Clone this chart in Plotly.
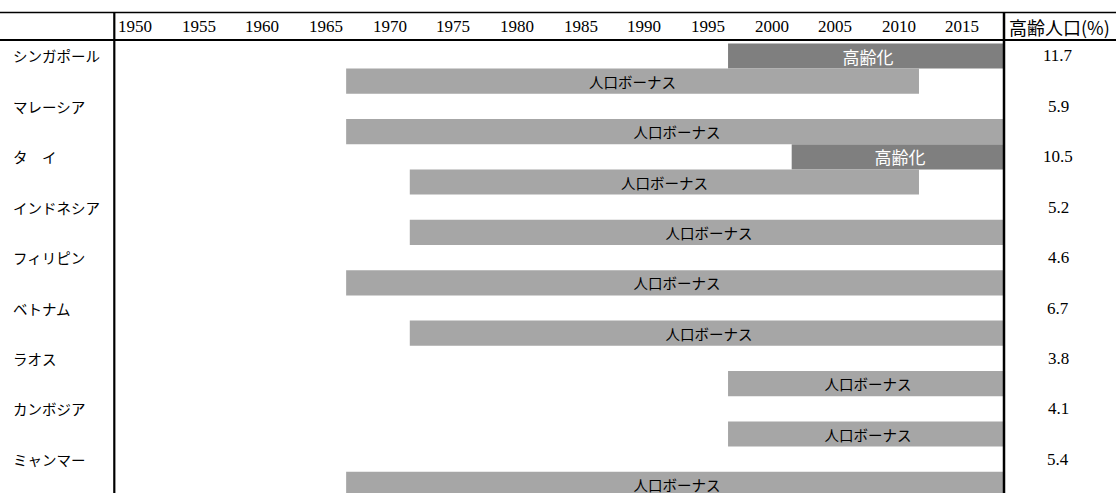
import plotly.graph_objects as go

# --- data -------------------------------------------------------------
countries = ["シンガポール", "マレーシア", "タ　イ", "インドネシア", "フィリピン",
             "ベトナム", "ラオス", "カンボジア", "ミャンマー"]
bonus_start = [1968, 1968, 1973, 1973, 1968, 1973, 1998, 1998, 1968]
bonus_end = [2013, 2020, 2013, 2020, 2020, 2020, 2020, 2020, 2020]
aging_start = [1998, None, 2003, None, None, None, None, None, None]
aging_end = [2020, None, 2020, None, None, None, None, None, None]
elderly_pct = [11.7, 5.9, 10.5, 5.2, 4.6, 6.7, 3.8, 4.1, 5.4]
year_ticks = [1950, 1955, 1960, 1965, 1970, 1975, 1980, 1985, 1990, 1995,
              2000, 2005, 2010, 2015]
bonus_label = "人口ボーナス"
aging_label = "高齢化"
value_header = "高齢人口(%)"

# --- layout constants -------------------------------------------------
W, H = 1116, 493
JP = "Noto Sans CJK JP"
SERIF = "Liberation Serif"
C_AGING = "#7f7f7f"
C_BONUS = "#a6a6a6"

def px_x(p):
    return p / W

def px_y(p):
    return (H - p) / H

# each country has two sub-rows: aging (2i) and bonus (2i+1)
row_aging = [2 * i for i in range(len(countries))]
row_bonus = [2 * i + 1 for i in range(len(countries))]

fig = go.Figure()

ag_y = [r for r, s in zip(row_aging, aging_start) if s is not None]
ag_base = [s for s in aging_start if s is not None]
ag_len = [e - s for s, e in zip(aging_start, aging_end) if s is not None]
fig.add_trace(go.Bar(
    orientation="h", y=ag_y, base=ag_base, x=ag_len, width=1.0,
    marker=dict(color=C_AGING, line=dict(width=0)),
    text=[aging_label] * len(ag_y), textposition="inside",
    insidetextanchor="middle", constraintext="none",
    textfont=dict(family=JP, size=17, color="white"),
    hoverinfo="skip",
))

fig.add_trace(go.Bar(
    orientation="h", y=row_bonus, base=bonus_start,
    x=[e - s for s, e in zip(bonus_start, bonus_end)], width=1.0,
    marker=dict(color=C_BONUS, line=dict(width=0)),
    text=[bonus_label] * len(row_bonus), textposition="inside",
    insidetextanchor="middle", constraintext="none",
    textfont=dict(family=JP, size=14.5, color="black"),
    hoverinfo="skip",
))

annotations = []
# year headers, left-aligned at the start of each 5-year column
for yr in year_ticks:
    annotations.append(dict(
        x=yr, xref="x", y=px_y(26), yref="paper", text=str(yr),
        xanchor="left", yanchor="middle", showarrow=False, xshift=-1,
        font=dict(family=SERIF, size=17, color="black")))
# country names
for i, name in enumerate(countries):
    annotations.append(dict(
        x=px_x(11), xref="paper", y=row_aging[i], yref="y", text=name,
        xanchor="left", yanchor="middle", showarrow=False,
        font=dict(family=JP, size=14.5, color="black")))
# elderly share column
for i, v in enumerate(elderly_pct):
    annotations.append(dict(
        x=px_x(1058), xref="paper", y=row_aging[i], yref="y", text=f"{v:.1f}",
        xanchor="center", yanchor="middle", showarrow=False,
        font=dict(family=SERIF, size=17, color="black")))
annotations.append(dict(
    x=px_x(1007), xref="paper", y=px_y(27), yref="paper", text=value_header,
    xanchor="left", yanchor="middle", showarrow=False,
    font=dict(family=JP, size=18, color="black")))

shapes = [
    dict(type="line", xref="paper", yref="paper", x0=0, x1=1,
         y0=px_y(12.5), y1=px_y(12.5), line=dict(color="black", width=1.5), layer="above"),
    dict(type="line", xref="paper", yref="paper", x0=0, x1=1,
         y0=px_y(40), y1=px_y(40), line=dict(color="black", width=2), layer="above"),
    dict(type="line", xref="paper", yref="paper", x0=px_x(114.3), x1=px_x(114.3),
         y0=px_y(12), y1=0, line=dict(color="black", width=2.2), layer="above"),
    dict(type="line", xref="paper", yref="paper", x0=px_x(1004), x1=px_x(1004),
         y0=px_y(12), y1=0, line=dict(color="black", width=2.5), layer="above"),
]

# sub-row centres: 56 px for row 0, 25.2 px pitch
row0_px = 56
pitch = 25.2
top_px, bot_px = 41, H
y_lo = (top_px - row0_px) / pitch
y_hi = (bot_px - row0_px) / pitch

# x scale: 12.73 px per year, 1950 at 117 px, plot area 114..1004 px
ppy = 12.73
x0 = 1950 - (117 - 114) / ppy
x1 = x0 + (1004 - 114) / ppy

fig.update_layout(
    width=W, height=H,
    margin=dict(l=0, r=0, t=0, b=0),
    paper_bgcolor="white", plot_bgcolor="white",
    showlegend=False, barmode="overlay",
    xaxis=dict(domain=[px_x(114), px_x(1004)], range=[x0, x1],
               showgrid=False, zeroline=False, showticklabels=False,
               showline=False, fixedrange=True),
    yaxis=dict(domain=[0, px_y(top_px)], range=[y_hi, y_lo],
               showgrid=False, zeroline=False, showticklabels=False,
               showline=False, fixedrange=True),
    annotations=annotations, shapes=shapes,
    uniformtext=dict(mode=False),
)

fig.write_html("out.html", config={"displayModeBar": False})
